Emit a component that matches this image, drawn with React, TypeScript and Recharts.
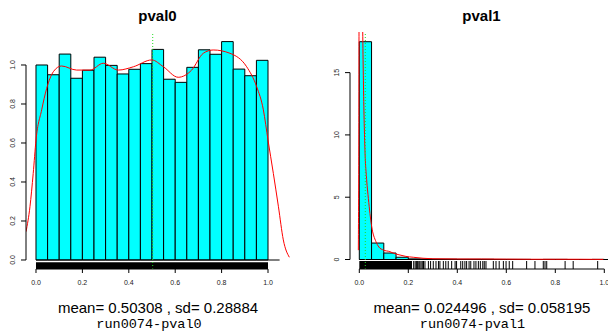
import React from "react";
import {
  ComposedChart,
  Line,
  XAxis,
  YAxis,
  ReferenceArea,
  ReferenceLine,
} from "recharts";

// histogram densities, 20 bins of width 0.05 on [0, 1]
const BIN_WIDTH = 0.05;
const pval0Bins = [
  1.0, 0.95, 1.056, 0.932, 0.973, 1.04, 0.998, 0.954, 0.978, 1.007,
  1.08, 0.927, 0.911, 0.988, 1.078, 1.055, 1.12, 0.979, 0.945, 1.024,
];
const pval1Bins = [
  17.48, 1.32, 0.52, 0.18, 0.05, 0.04, 0.03, 0.03, 0.02, 0.02,
  0.02, 0.01, 0.01, 0.01, 0.0, 0.01, 0.01, 0.0, 0.0, 0.01,
];

// kernel density curves
const pval0CurveX = [
  -0.043, -0.026, -0.012, 0, 0.0245, 0.046, 0.075, 0.11, 0.175, 0.233, 0.29,
  0.355, 0.42, 0.499, 0.549, 0.613, 0.671, 0.721, 0.764, 0.836, 0.908, 0.951,
  0.98, 1.0, 1.023, 1.045, 1.066, 1.092,
];
const pval0CurveY = [
  0.145, 0.273, 0.444, 0.615, 0.77, 0.88, 0.966, 0.995, 0.974, 0.974, 1.009,
  0.974, 0.991, 1.026, 0.991, 0.937, 0.974, 1.06, 1.077, 1.06, 0.991, 0.889,
  0.77, 0.615, 0.444, 0.273, 0.103, 0.014,
];
const pval1CurveX = [
  -0.004, -0.002, 0, 0.006, 0.012, 0.017, 0.023, 0.03, 0.037, 0.05, 0.068,
  0.08, 0.098, 0.125, 0.14, 0.166, 0.19, 0.22, 0.26, 0.3, 0.4, 0.5, 0.6, 0.7,
  0.8, 0.9, 0.996,
];
const pval1CurveY = [
  0.75, 10, 30, 40, 22, 14, 8.8, 6.4, 4.9, 2.7, 1.43, 1.0, 0.76, 0.63, 0.5,
  0.36, 0.25, 0.18, 0.1, 0.06, 0.04, 0.04, 0.03, 0.02, 0.02, 0.02, 0.01,
];

// rug: pval0 is solid over [0,1]; pval1 solid up to ~0.215 then these
const pval1RugDense = [0, 0.215];
const pval1Rug = [
  0.222, 0.228, 0.233, 0.238, 0.243, 0.247, 0.252, 0.257, 0.262, 0.268,
  0.282, 0.291, 0.302, 0.313, 0.323, 0.329, 0.343, 0.353, 0.363, 0.377,
  0.391, 0.397, 0.414, 0.422, 0.431, 0.438, 0.448, 0.455, 0.468, 0.476,
  0.486, 0.494, 0.504, 0.51, 0.517, 0.547, 0.558, 0.571, 0.588, 0.599,
  0.612, 0.626, 0.683, 0.717, 0.751, 0.758, 0.765, 0.84, 0.873, 0.973,
];

const xTicks = [0, 0.2, 0.4, 0.6, 0.8, 1.0];
const pval0YTicks = [0, 0.2, 0.4, 0.6, 0.8, 1.0];
const pval1YTicks = [0, 5, 10, 15];

const titles = ["pval0", "pval1"];
const subs = [
  "mean= 0.50308 , sd= 0.28884",
  "mean= 0.024496 , sd= 0.058195",
];
const runLabels = ["run0074-pval0", "run0074-pval1"];
const means = [0.50308, 0.024496];

const SANS = "'Liberation Sans', Arial, Helvetica, sans-serif";
const MONO = "'Liberation Mono', 'Courier New', monospace";

const zip = (xs: number[], ys: number[]) => xs.map((x, i) => ({ x, d: ys[i] }));

const XTick = (props: any) => {
  const { x, y, payload } = props;
  return (
    <text x={x} y={y + 10} textAnchor="middle" fontSize={7} fill="#222" fontFamily={SANS}>
      {Number(payload.value).toFixed(1)}
    </text>
  );
};

const makeYTick = (digits: number) => (props: any) => {
  const { x, y, payload } = props;
  return (
    <text
      x={x}
      y={y}
      transform={`rotate(-90 ${x} ${y})`}
      textAnchor="middle"
      fontSize={7}
      fill="#222"
      fontFamily={SANS}
    >
      {Number(payload.value).toFixed(digits)}
    </text>
  );
};

interface PanelProps {
  bins: number[];
  curve: { x: number; d: number }[];
  xDomain: [number, number];
  yDomain: [number, number];
  yTicks: number[];
  yTop: number;
  yDigits: number;
  mean: number;
  rugTop: number;
  rugDense: number[];
  rug: number[];
  width: number;
  yAxisWidth: number;
  marginRight: number;
}

function HistPanel(p: PanelProps) {
  const [xmin] = p.xDomain;
  const [ymin] = p.yDomain;
  return (
    <ComposedChart
      width={p.width}
      height={334}
      margin={{ top: 32, right: p.marginRight, bottom: 0, left: 0 }}
    >
      <XAxis
        dataKey="x"
        type="number"
        domain={p.xDomain}
        allowDataOverflow
        ticks={xTicks}
        axisLine={false}
        tickSize={4}
        tickMargin={2}
        stroke="#000"
        tick={<XTick />}
        height={65}
        interval={0}
      />
      <YAxis
        dataKey="d"
        type="number"
        domain={p.yDomain}
        allowDataOverflow
        ticks={p.yTicks}
        axisLine={false}
        tickSize={5}
        tickMargin={6}
        stroke="#000"
        tick={makeYTick(p.yDigits)}
        width={p.yAxisWidth}
        interval={0}
      />
      {p.bins.map((h, i) => (
        <ReferenceArea
          key={i}
          x1={i * BIN_WIDTH}
          x2={(i + 1) * BIN_WIDTH}
          y1={0}
          y2={h}
          fill="#00ffff"
          fillOpacity={1}
          stroke="#000"
          strokeWidth={1}
          ifOverflow="visible"
        />
      ))}
      <ReferenceLine
        segment={[{ x: 0, y: 0 }, { x: 1.05, y: 0 }]}
        stroke="#000"
        strokeWidth={1.2}
        ifOverflow="visible"
      />
      <ReferenceArea
        x1={p.rugDense[0]}
        x2={p.rugDense[1]}
        y1={ymin}
        y2={p.rugTop}
        fill="#000"
        fillOpacity={1}
        stroke="none"
        ifOverflow="visible"
      />
      {p.rug.map((v, i) => (
        <ReferenceLine
          key={"r" + i}
          segment={[{ x: v, y: ymin }, { x: v, y: p.rugTop }]}
          stroke="#000"
          strokeWidth={1}
          ifOverflow="visible"
        />
      ))}
      <Line
        data={p.curve}
        dataKey="d"
        type="monotone"
        stroke="#ff0000"
        strokeWidth={1}
        dot={false}
        activeDot={false}
        isAnimationActive={false}
      />
      <ReferenceLine
        x={p.mean}
        stroke="#22dd22"
        strokeDasharray="1 2"
        strokeWidth={1}
      />
      <ReferenceLine
        segment={[{ x: xmin, y: 0 }, { x: xmin, y: p.yTop }]}
        stroke="#000"
        strokeWidth={1}
        ifOverflow="visible"
      />
      <ReferenceLine
        segment={[{ x: 0, y: ymin }, { x: 1, y: ymin }]}
        stroke="#000"
        strokeWidth={1}
        ifOverflow="visible"
      />
    </ComposedChart>
  );
}

export default function App() {
  const titleX = [157.5, 481.5];
  const subX = [158, 482];
  const runX = [149, 472.5];
  return (
    <div
      style={{
        position: "absolute",
        left: 0,
        top: 0,
        width: 608,
        height: 334,
        overflow: "hidden",
        background: "#fff",
      }}
    >
      <div style={{ position: "absolute", left: 0, top: 0 }}>
        <HistPanel
          bins={pval0Bins}
          curve={zip(pval0CurveX, pval0CurveY)}
          xDomain={[-0.0431, 1.0991]}
          yDomain={[-0.0462, 1.1692]}
          yTicks={pval0YTicks}
          yTop={1}
          yDigits={1}
          mean={means[0]}
          rugTop={-0.0118}
          rugDense={[0, 1]}
          rug={[]}
          width={300}
          yAxisWidth={26}
          marginRight={9}
        />
      </div>
      <div style={{ position: "absolute", left: 300, top: 0 }}>
        <HistPanel
          bins={pval1Bins}
          curve={zip(pval1CurveX, pval1CurveY)}
          xDomain={[-0.038, 1.0396]}
          yDomain={[-0.762, 18.26]}
          yTicks={pval1YTicks}
          yTop={15}
          yDigits={0}
          mean={means[1]}
          rugTop={-0.12}
          rugDense={pval1RugDense}
          rug={pval1Rug}
          width={320}
          yAxisWidth={50}
          marginRight={6}
        />
      </div>
      <svg
        width={608}
        height={334}
        style={{ position: "absolute", left: 0, top: 0, pointerEvents: "none" }}
      >
        {titles.map((t, i) => (
          <text
            key={t}
            x={titleX[i]}
            y={21}
            textAnchor="middle"
            fontSize={15}
            fontWeight="bold"
            fontFamily={SANS}
            fill="#000"
          >
            {t}
          </text>
        ))}
        {subs.map((t, i) => (
          <text
            key={t}
            x={subX[i]}
            y={313}
            textAnchor="middle"
            fontSize={15}
            fontFamily={SANS}
            fill="#000"
          >
            {t}
          </text>
        ))}
        {runLabels.map((t, i) => (
          <text
            key={t}
            x={runX[i]}
            y={327.5}
            textAnchor="middle"
            fontSize={13.5}
            fontFamily={MONO}
            fill="#000"
          >
            {t}
          </text>
        ))}
      </svg>
    </div>
  );
}
